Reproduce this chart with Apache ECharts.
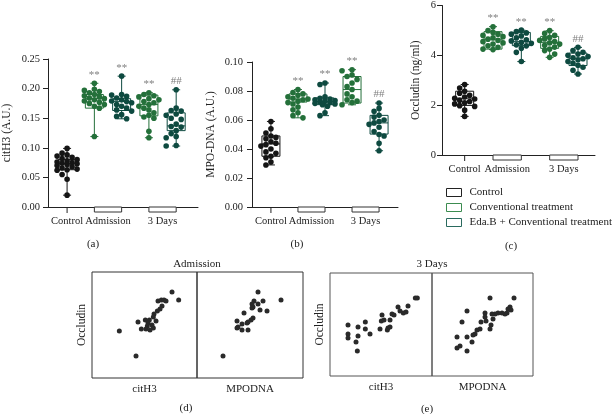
<!DOCTYPE html>
<html><head><meta charset="utf-8">
<script src="https://cdn.jsdelivr.net/npm/echarts@6/dist/echarts.min.js"></script>
<style>html,body{margin:0;padding:0;background:#fff}#c{width:614px;height:414px}</style>
</head><body><div id="c"></div>
<script>
// ---------- data ----------
const treatments = ['Control', 'Conventional treatment', 'Eda.B + Conventional treatment'];
const groupLabels = ['Control', 'Admission', '3 Days'];
const groupSpans = [[1, 1], [2, 3], [4, 5]];          // box positions covered by each label
const boxPositions = [1, 2, 3, 4, 5];
const boxTreatment = [0, 1, 2, 1, 2];

// box stats: [min, Q1, median, Q3, max]
const citH3Stats = [[0.020, 0.063, 0.073, 0.080, 0.099], [0.119, 0.167, 0.183, 0.190, 0.209], [0.149, 0.163, 0.178, 0.183, 0.221], [0.117, 0.154, 0.173, 0.189, 0.193], [0.103, 0.129, 0.137, 0.159, 0.198]];
const citH3Points = [
  [0.099, 0.091, 0.088, 0.086, 0.084, 0.082, 0.080, 0.078, 0.076, 0.075, 0.074, 0.073, 0.072, 0.070, 0.068, 0.066, 0.064, 0.063, 0.062, 0.055, 0.047, 0.020],
  [0.209, 0.199, 0.197, 0.195, 0.193, 0.190, 0.188, 0.186, 0.184, 0.183, 0.181, 0.179, 0.177, 0.175, 0.173, 0.170, 0.167, 0.119],
  [0.221, 0.190, 0.189, 0.187, 0.184, 0.181, 0.179, 0.178, 0.176, 0.173, 0.170, 0.167, 0.164, 0.162, 0.156, 0.153, 0.149],
  [0.193, 0.190, 0.188, 0.186, 0.183, 0.181, 0.178, 0.176, 0.173, 0.170, 0.167, 0.164, 0.159, 0.155, 0.152, 0.150, 0.128, 0.117],
  [0.198, 0.167, 0.163, 0.162, 0.157, 0.155, 0.150, 0.148, 0.140, 0.136, 0.135, 0.129, 0.124, 0.119, 0.117, 0.104, 0.103]
];
const citH3Marks = ['', '**', '**', '**', '##'];

const mpoStats = [[0.029, 0.035, 0.0435, 0.049, 0.059], [0.0615, 0.0724, 0.0745, 0.078, 0.081], [0.063, 0.0706, 0.0728, 0.0752, 0.0855], [0.0705, 0.0717, 0.081, 0.090, 0.0947], [0.0388, 0.0503, 0.058, 0.0632, 0.0717]];
const mpoPoints = [
  [0.059, 0.054, 0.051, 0.049, 0.048, 0.047, 0.045, 0.044, 0.043, 0.042, 0.040, 0.038, 0.037, 0.035, 0.034, 0.031, 0.029],
  [0.081, 0.079, 0.078, 0.077, 0.076, 0.075, 0.0745, 0.074, 0.073, 0.072, 0.071, 0.069, 0.067, 0.065, 0.063, 0.0615],
  [0.0855, 0.0845, 0.076, 0.075, 0.0745, 0.074, 0.0735, 0.073, 0.0725, 0.072, 0.0715, 0.071, 0.0705, 0.0695, 0.065, 0.063],
  [0.0947, 0.094, 0.091, 0.090, 0.088, 0.0855, 0.083, 0.081, 0.078, 0.076, 0.074, 0.073, 0.072, 0.0705],
  [0.0717, 0.068, 0.066, 0.0632, 0.062, 0.060, 0.059, 0.058, 0.057, 0.055, 0.052, 0.050, 0.049, 0.044, 0.0388]
];
const mpoMarks = ['', '**', '**', '**', '##'];

const occStats = [[1.55, 1.99, 2.28, 2.56, 2.83], [4.23, 4.25, 4.65, 4.95, 5.15], [3.75, 4.39, 4.55, 4.92, 5.01], [3.92, 4.28, 4.52, 4.76, 4.99], [3.25, 3.59, 3.88, 4.09, 4.32]];
const occPoints = [
  [2.83, 2.69, 2.56, 2.48, 2.40, 2.33, 2.28, 2.25, 2.20, 2.15, 2.10, 2.05, 1.98, 1.95, 1.80, 1.55],
  [5.15, 4.99, 4.92, 4.85, 4.80, 4.75, 4.70, 4.65, 4.60, 4.55, 4.50, 4.45, 4.38, 4.32, 4.25, 4.23],
  [5.01, 4.95, 4.90, 4.85, 4.78, 4.70, 4.62, 4.58, 4.52, 4.48, 4.42, 4.38, 4.28, 4.12, 3.75],
  [4.99, 4.88, 4.80, 4.72, 4.66, 4.60, 4.55, 4.50, 4.45, 4.40, 4.33, 4.25, 4.19, 4.05, 3.92],
  [4.32, 4.19, 4.12, 4.05, 4.00, 3.95, 3.90, 3.86, 3.82, 3.75, 3.68, 3.60, 3.52, 3.40, 3.25]
];
const occMarks = ['', '**', '**', '**', '##'];

// correlation scatter (d) Admission
const admCitH3 = [0.190, 0.200, 0.169, 0.174, 0.178, 0.181, 0.175, 0.172, 0.168, 0.163, 0.162, 0.150, 0.156, 0.166, 0.139, 0.160, 0.153, 0.154, 0.144, 0.151, 0.157, 0.162, 0.111, 0.136];
const admOccludinC = [4.72, 4.56, 4.54, 4.56, 4.56, 4.54, 4.44, 4.38, 4.34, 4.28, 4.22, 4.16, 4.16, 4.14, 4.12, 4.06, 4.04, 4.10, 3.98, 3.98, 3.96, 4.00, 3.94, 3.44];
const admMPODNA = [0.0755, 0.087, 0.0735, 0.078, 0.0725, 0.0755, 0.073, 0.0765, 0.080, 0.0725, 0.0685, 0.073, 0.072, 0.065, 0.0675, 0.070, 0.0705, 0.065, 0.0675, 0.0705, 0.0655, 0.058];
const admOccludinM = [4.72, 4.56, 4.54, 4.54, 4.48, 4.48, 4.42, 4.36, 4.34, 4.40, 4.30, 4.20, 4.16, 4.14, 4.08, 4.10, 4.12, 4.00, 3.96, 3.96, 4.02, 3.44];
// (e) 3 Days
const day3CitH3 = [0.188, 0.191, 0.177, 0.162, 0.174, 0.170, 0.165, 0.153, 0.156, 0.138, 0.137, 0.141, 0.150, 0.147, 0.146, 0.150, 0.135, 0.113, 0.102, 0.087, 0.113, 0.120, 0.087, 0.087, 0.102, 0.099, 0.101];
const day3OccludinC = [4.46, 4.46, 4.30, 4.28, 4.18, 4.16, 4.20, 4.14, 4.12, 4.12, 4.00, 4.02, 4.02, 3.86, 3.82, 3.88, 3.84, 3.98, 3.88, 3.92, 3.84, 3.74, 3.74, 3.66, 3.70, 3.58, 3.40];
const day3MPODNA = [0.059, 0.071, 0.0475, 0.069, 0.068, 0.0695, 0.0675, 0.0665, 0.065, 0.063, 0.0615, 0.060, 0.0565, 0.0565, 0.0605, 0.057, 0.0545, 0.045, 0.0595, 0.059, 0.054, 0.0525, 0.0515, 0.0505, 0.0475, 0.0425, 0.050, 0.044, 0.0425, 0.0475];
const day3OccludinM = [4.46, 4.46, 4.20, 4.28, 4.24, 4.22, 4.16, 4.14, 4.16, 4.16, 4.14, 4.14, 4.16, 4.08, 4.04, 4.00, 3.98, 3.98, 3.92, 3.84, 3.84, 3.82, 3.74, 3.72, 3.68, 3.68, 3.58, 3.50, 3.46, 3.40];

// ---------- style ----------
const FONT = '"Liberation Serif", "DejaVu Serif", serif';
const TXT = '#222';
const treatmentColors = ['#151515', '#24703a', '#0e4a40'];
const legendBorder = ['#222', '#3c8c50', '#2a6a5e'];

const panels = [
  { stats: citH3Stats, points: citH3Points, marks: citH3Marks, name: 'citH3 (A.U.)', min: 0, max: 0.25, interval: 0.05, dec: 2,
    grid: { left: 45, top: 59, width: 153, height: 148 }, xmin: 0.3, xmax: 5.8, nameGap: 35, labelMargin: 8 },
  { stats: mpoStats, points: mpoPoints, marks: mpoMarks, name: 'MPO-DNA (A.U.)', min: 0, max: 0.10, interval: 0.02, dec: 2,
    grid: { left: 252, top: 62, width: 146, height: 145 }, xmin: 0.3, xmax: 5.7, nameGap: 35, labelMargin: 9 },
  { stats: occStats, points: occPoints, marks: occMarks, name: 'Occludin (ng/ml)', min: 0, max: 6, interval: 2, dec: 0,
    grid: { left: 442, top: 5, width: 153, height: 150 }, xmin: 0.2, xmax: 5.6, nameGap: 20, labelMargin: 6 }
];

function makeBoxRender(panel) {
  return function (params, api) {
    const pos = api.value(0), k = api.value(2);
    const st = panel.stats[k], pts = panel.points[k];
    const col = treatmentColors[boxTreatment[k]];
    const cx = api.coord([pos, st[2]])[0];
    const Y = v => api.coord([pos, v])[1];
    const hw = 9, cap = 4, r = 2.8;
    const ch = [];
    ch.push({ type: 'line', shape: { x1: cx, y1: Y(st[0]), x2: cx, y2: Y(st[4]) }, style: { stroke: col, lineWidth: 1 } });
    ch.push({ type: 'rect', shape: { x: cx - hw, y: Y(st[3]), width: 2 * hw, height: Y(st[1]) - Y(st[3]) }, style: { fill: '#fff', stroke: col, lineWidth: 1 } });
    ch.push({ type: 'line', shape: { x1: cx - hw, y1: Y(st[2]), x2: cx + hw, y2: Y(st[2]) }, style: { stroke: col, lineWidth: 1 } });
    [st[0], st[4]].forEach(v => ch.push({ type: 'line', shape: { x1: cx - cap, y1: Y(v), x2: cx + cap, y2: Y(v) }, style: { stroke: col, lineWidth: 1 } }));
    const sorted = pts.slice().sort((a, b) => b - a);
    const placed = [];
    const offs = [0, -5, 5, -10, 10, -2.5, 2.5, -7.5, 7.5];
    sorted.forEach(v => {
      const py = Y(v);
      let best = 0, bestScore = -1;
      for (const o of offs) {
        let minD = Infinity;
        for (const p of placed) { const d = Math.hypot(p[0] - o, p[1] - py); if (d < minD) minD = d; }
        if (minD >= 5.2) { best = o; break; }
        if (minD > bestScore) { bestScore = minD; best = o; }
      }
      placed.push([best, py]);
      ch.push({ type: 'circle', shape: { cx: cx + best, cy: py, r: r }, style: { fill: col } });
    });
    if (panel.marks[k]) {
      ch.push({ type: 'text', style: { text: panel.marks[k], x: cx, y: Y(st[4]) - 3, align: 'center', verticalAlign: 'bottom', fill: '#808080', font: '11px ' + FONT } });
    }
    return { type: 'group', children: ch };
  };
}

function bracketRender(params, api) {
  const a = api.coord([api.value(0), api.value(2)]);
  const b = api.coord([api.value(1), api.value(2)]);
  if (api.value(0) === api.value(1)) {
    return { type: 'line', shape: { x1: a[0], y1: a[1], x2: a[0], y2: a[1] + 6 }, style: { stroke: '#222', lineWidth: 1 } };
  }
  return { type: 'rect', shape: { x: a[0], y: a[1], width: b[0] - a[0], height: 5 }, style: { fill: '#fff', stroke: '#333', lineWidth: 1 } };
}

const grids = [], xAxes = [], yAxes = [], series = [];
panels.forEach((p, i) => {
  grids.push(Object.assign({ containLabel: false }, p.grid));
  const mids = groupSpans.map(s => (s[0] + s[1]) / 2);
  xAxes.push({
    type: 'value', gridIndex: i, min: p.xmin, max: p.xmax, splitLine: { show: false },
    axisLine: { show: true, onZero: false, lineStyle: { color: '#222', width: 1 } },
    axisTick: { show: false },
    axisLabel: {
      customValues: mids, margin: 9, color: TXT, fontFamily: FONT, fontSize: 10.5, hideOverlap: false,
      formatter: v => { const j = mids.findIndex(m => Math.abs(m - v) < 1e-6); return j >= 0 ? groupLabels[j] : ''; }
    }
  });
  yAxes.push({
    type: 'value', gridIndex: i, min: p.min, max: p.max, interval: p.interval, splitLine: { show: false },
    axisLine: { show: true, lineStyle: { color: '#222', width: 1 } },
    axisTick: { show: true, length: 5, lineStyle: { color: '#222' } },
    axisLabel: { margin: p.labelMargin, color: TXT, fontFamily: FONT, fontSize: 10.5, formatter: v => v.toFixed(p.dec) },
    name: p.name, nameLocation: 'middle', nameGap: p.nameGap, nameRotate: 90,
    nameTextStyle: { color: TXT, fontFamily: FONT, fontSize: 11.5 }
  });
  treatments.forEach((t, ti) => {
    const data = [];
    boxPositions.forEach((pos, k) => { if (boxTreatment[k] === ti) data.push([pos, p.stats[k][2], k]); });
    series.push({ type: 'custom', name: t, xAxisIndex: i, yAxisIndex: i, clip: false, z: 3,
      itemStyle: { color: treatmentColors[ti] }, encode: { x: 0, y: 1 }, data: data, renderItem: makeBoxRender(p) });
  });
  series.push({ type: 'custom', xAxisIndex: i, yAxisIndex: i, clip: false, silent: true, z: 4,
    encode: { x: [0, 1], y: 2 }, data: groupSpans.map(s => [s[0], s[1], p.min]), renderItem: bracketRender });
});

// scatter panels
const scatterPanels = [
  { grid: { left: 92, top: 272, width: 105, height: 106 }, x: admCitH3, y: admOccludinC, xname: 'citH3', xmin: 0.07, xmax: 0.2275, ymin: 3.0, ymax: 5.12, yname: 'Occludin', border: '#333' },
  { grid: { left: 197, top: 272, width: 106, height: 106 }, x: admMPODNA, y: admOccludinM, xname: 'MPODNA', xmin: 0.045, xmax: 0.098, ymin: 3.0, ymax: 5.12, yname: '', border: '#333' },
  { grid: { left: 330, top: 273, width: 102, height: 103 }, x: day3CitH3, y: day3OccludinC, xname: 'citH3', xmin: 0.06, xmax: 0.213, ymin: 2.9, ymax: 4.96, yname: 'Occludin', border: '#555' },
  { grid: { left: 432, top: 273, width: 101, height: 103 }, x: day3MPODNA, y: day3OccludinM, xname: 'MPODNA', xmin: 0.03, xmax: 0.0805, ymin: 2.9, ymax: 4.96, yname: '', border: '#555' }
];
scatterPanels.forEach((s, j) => {
  const gi = panels.length + j;
  grids.push(Object.assign({ show: true, borderColor: s.border, borderWidth: 1, backgroundColor: 'transparent' }, s.grid));
  xAxes.push({ type: 'value', gridIndex: gi, min: s.xmin, max: s.xmax, axisLine: { show: false }, axisTick: { show: false },
    axisLabel: { show: false }, splitLine: { show: false },
    name: s.xname, nameLocation: 'middle', nameGap: 6, nameTextStyle: { color: TXT, fontFamily: FONT, fontSize: 11, verticalAlign: 'top' } });
  yAxes.push({ type: 'value', gridIndex: gi, min: s.ymin, max: s.ymax, axisLine: { show: false }, axisTick: { show: false },
    axisLabel: { show: false }, splitLine: { show: false },
    name: s.yname, nameLocation: 'middle', nameGap: 4, nameRotate: 90, nameTextStyle: { color: TXT, fontFamily: FONT, fontSize: 11.5 } });
  series.push({ type: 'scatter', xAxisIndex: gi, yAxisIndex: gi, symbolSize: 5, silent: true,
    itemStyle: { color: '#2a2a2a', opacity: 1 }, data: s.x.map((v, n) => [v, s.y[n]]) });
});

const txt = (text, x, y, size) => ({ type: 'text', x: x, y: y, silent: true,
  style: { text: text, fill: TXT, font: (size || 11) + 'px ' + FONT, align: 'center', verticalAlign: 'middle' } });

const chart = echarts.init(document.getElementById('c'), null, { renderer: 'canvas' });
chart.setOption({
  animation: false,
  backgroundColor: '#fff',
  grid: grids, xAxis: xAxes, yAxis: yAxes, series: series,
  legend: {
    orient: 'vertical', left: 446, top: 186, itemWidth: 15, itemHeight: 8, itemGap: 2, padding: 0,
    selectedMode: false,
    textStyle: { color: TXT, fontFamily: FONT, fontSize: 11, lineHeight: 13, padding: [0, 0, 0, 3] },
    data: treatments.map((t, i) => ({ name: t, icon: 'rect', itemStyle: { color: '#fff', borderColor: legendBorder[i], borderWidth: 1 } }))
  },
  graphic: [
    txt('(a)', 93, 244), txt('(b)', 297, 244), txt('(c)', 511, 246),
    txt('Admission', 197, 264), txt('3 Days', 432, 264),
    txt('(d)', 186, 408), txt('(e)', 427, 409)
  ]
});
</script>
</body></html>
